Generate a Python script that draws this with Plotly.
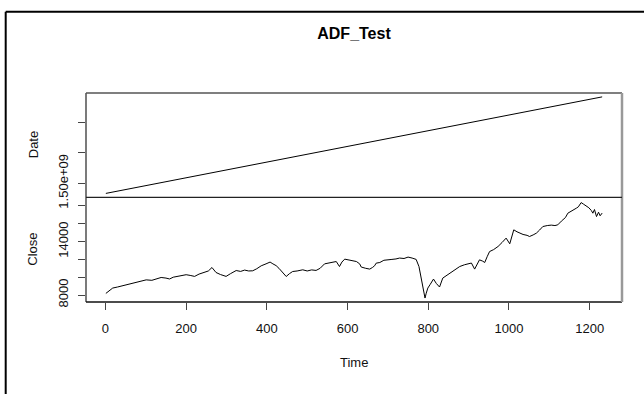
import plotly.graph_objects as go

# ---- data ----
time_pts = [1, 10, 18, 30, 43, 55, 68, 80, 90, 101, 115, 125, 138, 150, 159, 168, 175, 188, 200, 210,
            221, 232, 245, 255, 264, 270, 274, 285, 299, 310, 324, 335, 345, 355, 365, 375, 386, 398, 408, 415,
            423, 430, 436, 448, 456, 464, 475, 489, 500, 511, 522, 532, 543, 555, 565, 572, 580, 586, 593, 605,
            615, 622, 630, 634, 645, 655, 662, 667, 671, 680, 690, 696, 710, 720, 729, 740, 750, 760, 766, 770,
            777, 783, 789, 792, 795, 799, 805, 813, 820, 828, 836, 840, 850, 861, 870, 878, 890, 900, 907, 915,
            920, 927, 935, 940, 946, 952, 962, 973, 983, 993, 1002, 1007, 1012, 1020, 1026, 1035, 1045, 1051, 1060, 1068,
            1076, 1084, 1095, 1105, 1114, 1121, 1130, 1140, 1146, 1155, 1160, 1167, 1172, 1179, 1185, 1192, 1198, 1204, 1208, 1212,
            1217, 1222, 1226, 1231]
close_vals = [8180, 8500, 8780, 8900, 9040, 9150, 9270, 9400, 9550, 9700, 9650, 9800, 9970, 9900, 9800, 10000, 10080, 10150, 10280, 10200,
              10090, 10350, 10530, 10700, 11090, 10800, 10530, 10300, 10090, 10400, 10750, 10650, 10800, 10700, 10720, 10950, 11280, 11500, 11700, 11500,
              11300, 11000, 10650, 10080, 10400, 10640, 10700, 10830, 10700, 10820, 10760, 11000, 11500, 11600, 11700, 11760, 11200, 11700, 12030, 11900,
              11800, 11760, 11500, 11140, 11000, 10910, 11100, 11280, 11580, 11650, 11900, 11950, 12000, 12050, 12150, 12100, 12260, 12150, 12070, 12000,
              11200, 9900, 8400, 7660, 8200, 8780, 9200, 9790, 9300, 8900, 9900, 10020, 10300, 10640, 10900, 11200, 11400, 11500, 11590, 10910,
              11300, 11950, 11800, 11650, 12300, 12880, 13100, 13450, 13900, 14390, 13750, 14600, 15320, 15100, 14950, 14800, 14700, 14570, 14750, 14950,
              15300, 15690, 15800, 15850, 15800, 15880, 16300, 16700, 17190, 17400, 17600, 17750, 17900, 18380, 18200, 18000, 17800, 17500, 17190, 17600,
              16810, 17300, 16900, 17200]

date_time = [1, 200, 400, 600, 800, 1000, 1231]
date_vals = [1.4834e9, 1.5091e9, 1.5349e9, 1.5607e9, 1.5865e9, 1.6123e9, 1.6421e9]

x_ticks = [0, 200, 400, 600, 800, 1000, 1200]
close_ticks = [8000, 10000, 12000, 14000, 16000, 18000]
close_ticktext = ["8000", "", "", "14000", "", ""]
date_ticks = [1.50e9, 1.55e9, 1.60e9]
date_ticktext = ["1.50e+09", "", ""]

title_text = "ADF_Test"

FONT = "Liberation Sans, Arial, sans-serif"
TXT = "#111111"
FS = 13

fig = go.Figure()
fig.add_trace(go.Scatter(x=date_time, y=date_vals, mode="lines",
                         line=dict(color="black", width=1), xaxis="x2", yaxis="y2",
                         showlegend=False, hoverinfo="skip"))
fig.add_trace(go.Scatter(x=time_pts, y=close_vals, mode="lines",
                         line=dict(color="black", width=1), xaxis="x", yaxis="y",
                         showlegend=False, hoverinfo="skip"))

axis_common = dict(showgrid=False, zeroline=False, showline=False)

fig.update_layout(
    width=644, height=394,
    margin=dict(l=86, r=22, t=93, b=92, autoexpand=False),
    paper_bgcolor="white", plot_bgcolor="white",
    font=dict(family=FONT, size=FS, color=TXT),
    xaxis=dict(domain=[0, 1], anchor="y", range=[-48.2, 1280.2], tickvals=x_ticks,
               ticktext=[str(v) for v in x_ticks],
               ticks="outside", ticklen=7, tickcolor="#444", tickwidth=1,
               ticklabelstandoff=7,
               tickfont=dict(size=FS, family=FONT, color=TXT), **axis_common),
    yaxis=dict(domain=[0, 0.501], anchor="x", range=[7215, 18975], tickvals=close_ticks,
               ticktext=close_ticktext, tickangle=-90, ticklabelstandoff=5,
               ticks="outside", ticklen=7, tickcolor="#444", tickwidth=1,
               tickfont=dict(size=FS, family=FONT, color=TXT), **axis_common),
    xaxis2=dict(domain=[0, 1], anchor="y2", range=[-48.2, 1280.2], showticklabels=False,
                ticks="", **axis_common),
    yaxis2=dict(domain=[0.501, 1], anchor="x2", range=[1.4770e9, 1.6485e9], tickvals=date_ticks,
                ticktext=date_ticktext, tickangle=-90, ticklabelstandoff=5,
                ticks="outside", ticklen=7, tickcolor="#444", tickwidth=1,
                tickfont=dict(size=FS, family=FONT, color=TXT), **axis_common),
    title=dict(text="<b>" + title_text + "</b>", x=(86 + 536 / 2) / 644, xanchor="center",
               y=1 - 33 / 394, yanchor="middle",
               font=dict(size=16, family=FONT, color="black")),
)

# axis titles
fig.add_annotation(text="Time", xref="paper", yref="paper", x=0.5, y=(302 - 362) / 209,
                   showarrow=False, font=dict(size=FS, family=FONT, color=TXT),
                   xanchor="center", yanchor="middle")
fig.add_annotation(text="Date", xref="paper", yref="paper", x=(33 - 86) / 536, y=0.75,
                   showarrow=False, textangle=-90, font=dict(size=FS, family=FONT, color=TXT),
                   xanchor="center", yanchor="middle")
fig.add_annotation(text="Close", xref="paper", yref="paper", x=(33 - 86) / 536, y=0.25,
                   showarrow=False, textangle=-90, font=dict(size=FS, family=FONT, color=TXT),
                   xanchor="center", yanchor="middle")

# panel borders
def pline(x0, y0, x1, y1, color, width):
    fig.add_shape(type="line", xref="paper", yref="paper", x0=x0, y0=y0, x1=x1, y1=y1,
                  line=dict(color=color, width=width), layer="above")

pline(0, 0, 0, 1, "#222", 1.2)
pline(0, 0, 1, 0, "#111", 1.5)
pline(0, 1, 1, 1, "#555", 1.5)
pline(1, 0, 1, 1, "#999", 2.5)
pline(0, 0.501, 1, 0.501, "#222", 1.2)

# outer frame (top and left)
fx = (5.7 - 86) / 536
fy_top = (302 - 11.7) / 209
fy_bot = (302 - 394) / 209
fx_right = (644 - 86) / 536
pline(fx, fy_top, fx_right, fy_top, "black", 2)
pline(fx, fy_top, fx, fy_bot, "black", 2)

fig.write_html("out.html")
